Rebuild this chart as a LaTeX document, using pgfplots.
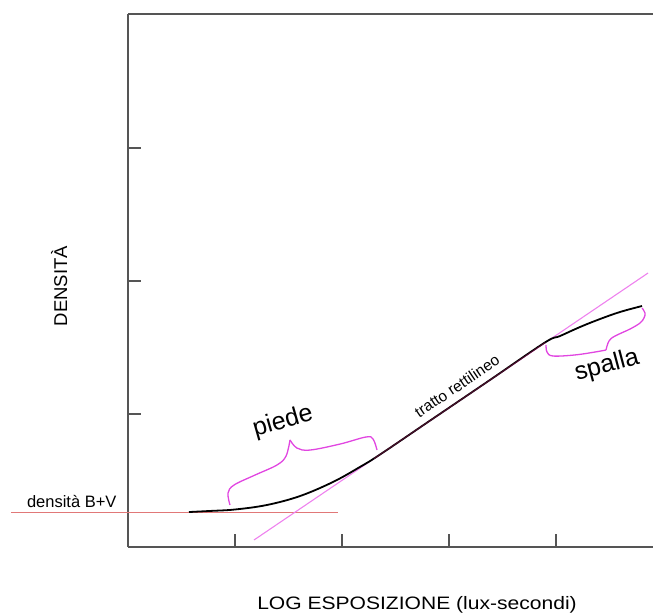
\documentclass[border=0pt]{standalone}
\usepackage{fontspec}
\setmainfont{Liberation Sans}
\usepackage{pgfplots}
\pgfplotsset{compat=1.18}
\definecolor{axgray}{RGB}{85,85,85}
\definecolor{brmag}{RGB}{225,70,225}
\definecolor{tanpink}{RGB}{238,130,238}
\definecolor{basered}{RGB}{225,120,120}
\begin{document}
\begin{tikzpicture}[x=1pt,y=1pt]
\useasboundingbox (0,0) rectangle (653,614);
\begin{axis}[
  at={(128pt,67pt)}, anchor=south west,
  scale only axis, width=525pt, height=533pt,
  xmin=0, xmax=4.9065, ymin=0, ymax=4.0075,
  axis x line=box, axis y line=left,
  x axis line style={-}, y axis line style={-},
  axis line style={axgray, line width=1.4pt},
  xtick={1,2,3,4}, ytick={1,2,3},
  xticklabels={}, yticklabels={},
  xtick pos=bottom, ytick pos=left,
  tick align=inside, major tick length=13pt,
  tick style={axgray, line width=1.1pt},
  clip=false,
]
% base + fog density line
\addplot[basered, line width=1pt] coordinates {(-1.093,0.263) (1.963,0.263)};
% tangent to straight portion
\addplot[tanpink, line width=1.1pt] coordinates {(1.178,0.053) (4.860,2.060)};
% characteristic curve
\addplot[black, line width=1.8pt, smooth, tension=0.6] coordinates {
 (0.570,0.263) (0.766,0.271) (1.000,0.282) (1.299,0.316) (1.607,0.383)
 (1.916,0.489) (2.168,0.602) (2.355,0.695) (2.822,0.950) (3.383,1.256)
 (3.897,1.538) (4.037,1.586) (4.224,1.654) (4.411,1.714) (4.598,1.767) (4.804,1.812)};
\addplot[purple!70!tanpink, opacity=0.35, line width=1.1pt] coordinates {(2.30,0.665) (3.90,1.537)};
% brace "piede"
\addplot[brmag, line width=1.3pt, smooth, tension=0.6] coordinates {
 (0.953,0.316) (0.935,0.406) (0.991,0.466) (1.187,0.541) (1.393,0.617) (1.477,0.684) (1.514,0.805)};
\addplot[brmag, line width=1.3pt, smooth, tension=0.6] coordinates {
 (1.514,0.805) (1.579,0.744) (1.701,0.729) (1.981,0.774) (2.224,0.827) (2.290,0.812) (2.327,0.729)};
% brace "spalla"
\addplot[brmag, line width=1.3pt, smooth, tension=0.6] coordinates {
 (3.907,1.519) (3.916,1.466) (3.972,1.436) (4.178,1.444) (4.364,1.466) (4.467,1.481)};
\addplot[brmag, line width=1.3pt, smooth, tension=0.6] coordinates {
 (4.467,1.481) (4.495,1.549) (4.551,1.586) (4.692,1.639) (4.785,1.684) (4.822,1.722) (4.832,1.759) (4.804,1.797)};
\end{axis}
\node[anchor=base] at (417,5) {\fontsize{18}{20}\selectfont\scalebox{1.17}[1]{LOG ESPOSIZIONE (lux-secondi)}};
\node[anchor=base, rotate=90] at (67,328) {\fontsize{18.5}{20}\selectfont DENSITÀ};
\node[anchor=base east] at (120,107) {\fontsize{16.5}{18}\selectfont densità B+V};
\node[rotate=34] at (457,228) {\fontsize{15.5}{17}\selectfont tratto rettilineo};
\node[rotate=16] at (283,192) {\fontsize{25}{28}\selectfont piede};
\node[rotate=15] at (607,248) {\fontsize{25}{28}\selectfont spalla};
\end{tikzpicture}
\end{document}
